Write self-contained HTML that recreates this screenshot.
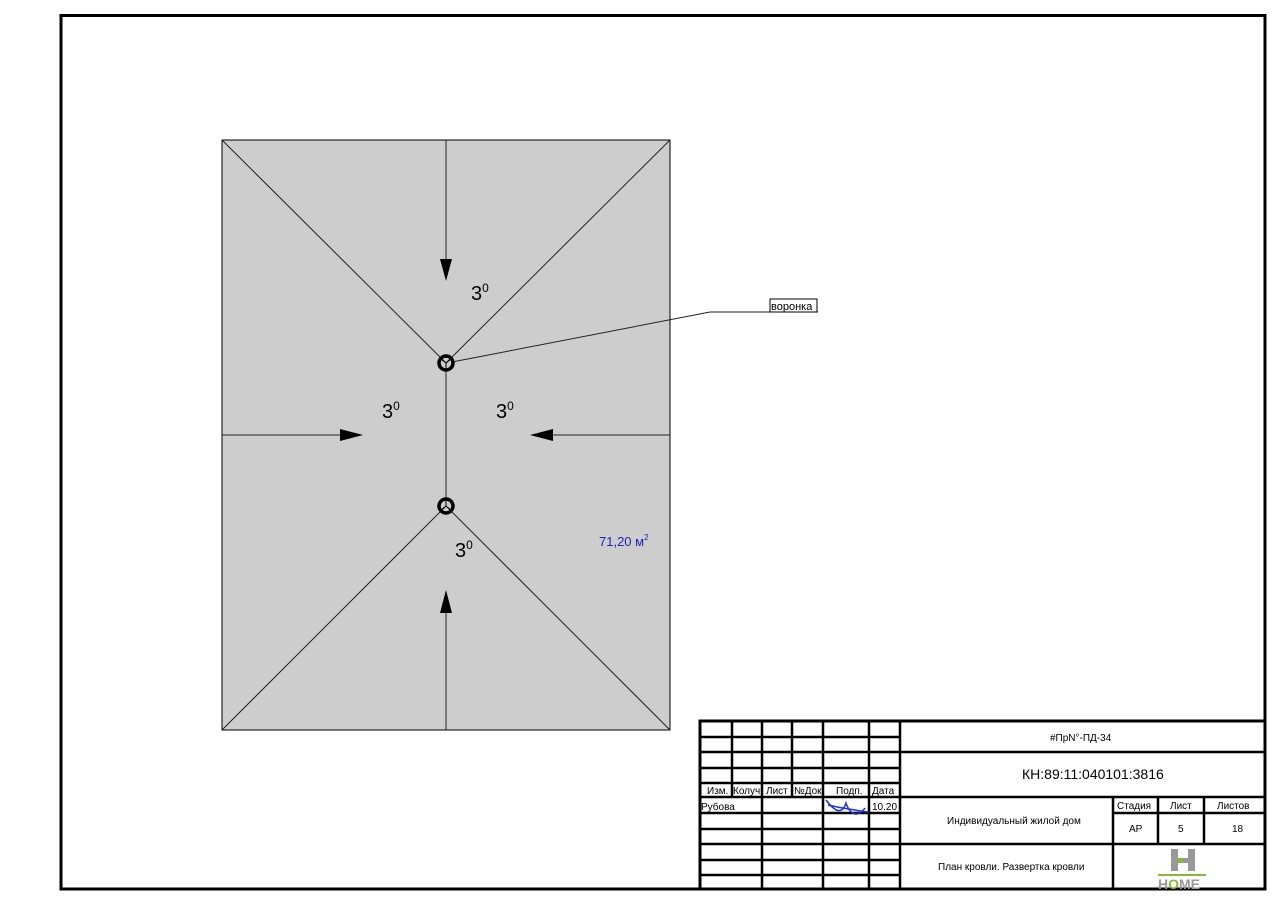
<!DOCTYPE html>
<html><head><meta charset="utf-8"><style>
html,body{margin:0;padding:0;background:#fff}
svg{display:block}
text{font-family:"Liberation Sans","DejaVu Sans",sans-serif}
</style></head><body>
<svg width="1280" height="905" viewBox="0 0 1280 905" xmlns="http://www.w3.org/2000/svg">
<rect x="0" y="0" width="1280" height="905" fill="#fff"/>
<rect x="61" y="15.5" width="1204" height="873.5" fill="none" stroke="#000" stroke-width="3"/>
<!-- roof -->
<rect x="222" y="140" width="448" height="590" fill="#cdcdcd" stroke="#000" stroke-width="1"/>
<g stroke="#222" stroke-width="1" fill="none">
<line x1="222" y1="140" x2="446" y2="363"/>
<line x1="670" y1="140" x2="446" y2="363"/>
<line x1="222" y1="730" x2="446" y2="506"/>
<line x1="670" y1="730" x2="446" y2="506"/>
<line x1="446" y1="363" x2="446" y2="506"/>
<line x1="446" y1="140" x2="446" y2="265"/>
<line x1="446" y1="730" x2="446" y2="610"/>
<line x1="222" y1="435" x2="345" y2="435"/>
<line x1="670" y1="435" x2="548" y2="435"/>
<polyline points="452,362 710,312 818,312"/>
</g>
<g fill="#000">
<polygon points="440,259 452,259 446,281"/>
<polygon points="440,613 452,613 446,590"/>
<polygon points="340,429 340,441 363,435"/>
<polygon points="553,429 553,441 530,435"/>
</g>
<circle cx="446" cy="363" r="7" fill="none" stroke="#000" stroke-width="3.5"/>
<circle cx="446" cy="506" r="7" fill="none" stroke="#000" stroke-width="3.5"/>
<g stroke="#000" stroke-width="1"><line x1="446" y1="363" x2="441" y2="359"/><line x1="446" y1="363" x2="451" y2="359"/><line x1="446" y1="363" x2="446" y2="368"/>
<line x1="446" y1="506" x2="441" y2="510"/><line x1="446" y1="506" x2="451" y2="510"/><line x1="446" y1="506" x2="446" y2="501"/></g>
<g font-size="20" fill="#000">
<text x="471" y="300">3<tspan font-size="12" dy="-8">0</tspan></text>
<text x="382" y="418">3<tspan font-size="12" dy="-8">0</tspan></text>
<text x="496" y="418">3<tspan font-size="12" dy="-8">0</tspan></text>
<text x="455" y="557">3<tspan font-size="12" dy="-8">0</tspan></text>
</g>
<text x="599" y="546" font-size="13" fill="#2323b0">71,20 м<tspan font-size="8" dy="-6">2</tspan></text>
<rect x="770" y="299" width="47" height="13" fill="none" stroke="#000" stroke-width="1"/>
<text x="771" y="310" font-size="11">воронка</text>
<!-- title block -->
<rect x="700" y="721" width="565" height="168" fill="#fff" stroke="#000" stroke-width="3"/>
<g stroke="#000" stroke-width="2.5">
<line x1="732" y1="721" x2="732" y2="797"/>
<line x1="762" y1="721" x2="762" y2="889"/>
<line x1="792" y1="721" x2="792" y2="797"/>
<line x1="823" y1="721" x2="823" y2="889"/>
<line x1="869" y1="721" x2="869" y2="889"/>
<line x1="900" y1="721" x2="900" y2="889"/>
<line x1="700" y1="737" x2="900" y2="737"/>
<line x1="700" y1="752" x2="1265" y2="752"/>
<line x1="700" y1="768" x2="900" y2="768"/>
<line x1="700" y1="783" x2="900" y2="783"/>
<line x1="700" y1="797" x2="1265" y2="797"/>
<line x1="700" y1="813" x2="900" y2="813"/>
<line x1="700" y1="829" x2="900" y2="829"/>
<line x1="700" y1="844" x2="1265" y2="844"/>
<line x1="700" y1="860" x2="900" y2="860"/>
<line x1="700" y1="875" x2="900" y2="875"/>
<line x1="1113" y1="797" x2="1113" y2="889"/>
<line x1="1158" y1="797" x2="1158" y2="844"/>
<line x1="1204" y1="797" x2="1204" y2="844"/>
<line x1="1113" y1="813" x2="1265" y2="813"/>
</g>
<g font-size="10" fill="#000">
<text x="707" y="794">Изм.</text>
<text x="733" y="794">Колуч</text>
<text x="766" y="794">Лист</text>
<text x="794" y="794">№Док.</text>
<text x="836" y="794">Подп.</text>
<text x="872" y="794">Дата</text>
<text x="701" y="810">Рубова</text>
<text x="872" y="810">10.20</text>
<text x="1050" y="741" font-size="10">#ПрN°-ПД-34</text>
<text x="1022" y="779" font-size="14">КН:89:11:040101:3816</text>
<text x="947" y="824">Индивидуальный жилой дом</text>
<text x="938" y="870">План кровли. Развертка кровли</text>
<text x="1117" y="809">Стадия</text>
<text x="1170" y="809">Лист</text>
<text x="1217" y="809">Листов</text>
<text x="1129" y="832">АР</text>
<text x="1178" y="832">5</text>
<text x="1232" y="832">18</text>
</g>
<path d="M826 800 C835 812 842 815 846 803 C850 815 858 818 865 808 M828 805 C840 808 855 810 868 812" stroke="#2233cc" stroke-width="1.5" fill="none"/>
<g fill="#999"><rect x="1171" y="849" width="7" height="22"/><rect x="1188" y="849" width="7" height="22"/><rect x="1178" y="858" width="5" height="5" fill="#8ab833"/><rect x="1183" y="858" width="5" height="5"/></g>
<rect x="1158" y="874" width="48" height="2" fill="#8ab833"/>
<text x="1158" y="889" font-size="14" font-weight="bold" fill="#999">H<tspan fill="#8ab833">O</tspan>ME</text>
</svg>
</body></html>
